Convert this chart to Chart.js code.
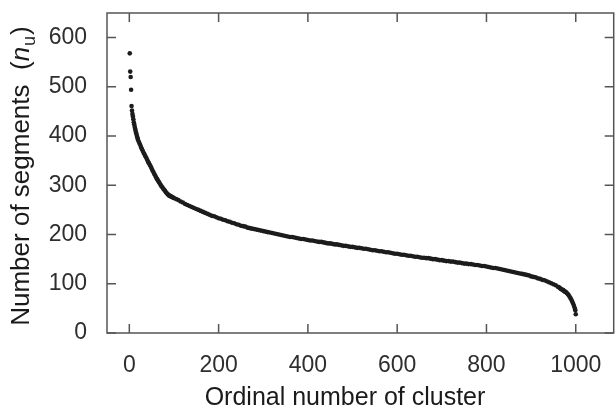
<!DOCTYPE html>
<html>
<head>
<meta charset="utf-8">
<script src="https://cdn.jsdelivr.net/npm/chart.js@4/dist/chart.umd.min.js"></script>
<style>
    html, body { margin: 0; padding: 0; background: #fff; }
    #wrap { width: 616px; height: 416px; }
</style>
</head>
<body>
<div id="wrap"><canvas id="myChart" width="616" height="416"></canvas></div>
<script>
// ordinal number of cluster (x) and number of segments n_u (y)
const clusterIndex = [
    1, 2, 3, 4, 5, 6, 7, 8, 9, 10, 11, 12, 13, 14, 15, 16, 17, 18, 19, 20,
    22, 24, 26, 28, 30, 32, 34, 36, 38, 40, 42, 44, 46, 48, 50, 52, 54, 56, 58, 60,
    62, 64, 66, 68, 70, 72, 74, 76, 78, 80, 82, 84, 86, 88, 90, 92, 94, 96, 98, 100,
    105, 110, 115, 120, 125, 130, 135, 140, 145, 150, 155, 160, 165, 170, 175, 180, 185, 190, 195, 200,
    205, 210, 215, 220, 225, 230, 235, 240, 245, 250, 255, 260, 265, 270, 275, 280, 285, 290, 295, 300,
    305, 310, 315, 320, 325, 330, 335, 340, 345, 350, 355, 360, 365, 370, 375, 380, 385, 390, 395, 400,
    405, 410, 415, 420, 425, 430, 435, 440, 445, 450, 455, 460, 465, 470, 475, 480, 485, 490, 495, 500,
    505, 510, 515, 520, 525, 530, 535, 540, 545, 550, 555, 560, 565, 570, 575, 580, 585, 590, 595, 600,
    605, 610, 615, 620, 625, 630, 635, 640, 645, 650, 655, 660, 665, 670, 675, 680, 685, 690, 695, 700,
    705, 710, 715, 720, 725, 730, 735, 740, 745, 750, 755, 760, 765, 770, 775, 780, 785, 790, 795, 800,
    805, 810, 815, 820, 825, 830, 835, 840, 845, 850, 855, 860, 865, 870, 875, 880, 885, 890, 895, 900,
    905, 910, 915, 920, 925, 930, 935, 940, 945, 950, 955, 960,
    962, 964, 966, 968, 970, 972, 974, 976, 978, 980, 982, 984, 986, 988, 990, 992, 994, 996, 998, 999, 1000
];
const segmentCount = [
    568, 531, 520, 494, 461, 452, 445, 440, 434, 428, 424, 419, 415, 411, 407, 404, 400, 397, 394, 391,
    387, 383, 378, 374, 370, 366, 363, 359, 356, 352, 348, 345, 341, 338, 334, 330, 327, 323, 320, 316,
    313, 310, 307, 304, 301, 298, 296, 293, 291, 289, 286, 284, 282, 280, 279, 278, 277, 276, 275, 274,
    272, 270, 267, 265, 262, 260, 258, 256, 254, 252, 250, 248, 246, 244, 242, 240, 238, 237, 235, 233,
    232, 230, 229, 227, 226, 224, 223, 221, 220, 218, 217, 216, 214, 213, 212, 211, 210, 209, 208, 207,
    206, 205, 204, 203, 202, 201, 200, 199, 198, 197, 196, 195, 195, 194, 193, 192, 191, 191, 190, 189,
    188, 188, 187, 186, 185, 185, 184, 183, 182, 182, 181, 180, 180, 179, 178, 177, 177, 176, 175, 175,
    174, 173, 173, 172, 171, 171, 170, 169, 168, 168, 167, 166, 166, 165, 164, 164, 163, 162, 161, 161,
    160, 159, 159, 158, 157, 157, 156, 155, 155, 154, 153, 153, 152, 152, 151, 150, 150, 149, 148, 148,
    147, 146, 146, 145, 145, 144, 143, 143, 142, 141, 141, 140, 140, 139, 138, 138, 137, 136, 136, 135,
    134, 133, 132, 132, 131, 130, 129, 128, 127, 126, 125, 124, 123, 122, 121, 120, 119, 118, 117, 115,
    114, 113, 111, 110, 108, 107, 105, 103, 101, 99, 97, 94,
    93, 92, 90, 89, 88, 87, 85, 84, 83, 81, 79, 77, 74, 71, 68, 64, 60, 55, 50, 46, 38
];
const xTicks = [0, 200, 400, 600, 800, 1000];
const yTicks = [0, 100, 200, 300, 400, 500, 600];
const xTitle = 'Ordinal number of cluster';
const yTitleMain = 'Number of segments  (';
const yTitleVar = 'n';
const yTitleSub = 'u';
const yTitleEnd = ')';

const points = clusterIndex.map((x, i) => ({x: x, y: segmentCount[i]}));

const frameColor = '#555555';
const tickLen = 9;

const framePlugin = {
    id: 'frame',
    afterDraw(chart) {
        const ctx = chart.ctx;
        const area = chart.chartArea;
        const xs = chart.scales.x;
        const ys = chart.scales.y;
        ctx.save();
        ctx.strokeStyle = frameColor;
        ctx.lineWidth = 1.5;
        ctx.strokeRect(area.left, area.top, area.right - area.left, area.bottom - area.top);
        ctx.beginPath();
        for (const v of xTicks) {
            const px = xs.getPixelForValue(v);
            ctx.moveTo(px, area.bottom);
            ctx.lineTo(px, area.bottom - tickLen);
            ctx.moveTo(px, area.top);
            ctx.lineTo(px, area.top + tickLen);
        }
        for (const v of yTicks) {
            const py = ys.getPixelForValue(v);
            ctx.moveTo(area.left, py);
            ctx.lineTo(area.left + tickLen, py);
            ctx.moveTo(area.right, py);
            ctx.lineTo(area.right - tickLen, py);
        }
        ctx.stroke();

        // axis titles
        ctx.fillStyle = '#1a1a1a';
        ctx.textBaseline = 'middle';
        ctx.font = '25px "Liberation Sans", Arial, sans-serif';
        ctx.textAlign = 'center';
        ctx.fillText(xTitle, 345, 398);

        ctx.translate(22, 176);
        ctx.rotate(-Math.PI / 2);
        ctx.textAlign = 'left';
        const regular = '26px "Liberation Sans", Arial, sans-serif';
        const italic = 'italic 26px "Liberation Sans", Arial, sans-serif';
        const small = '18px "Liberation Sans", Arial, sans-serif';
        ctx.font = regular;
        const w1 = ctx.measureText(yTitleMain).width;
        ctx.font = italic;
        const w2 = ctx.measureText(yTitleVar).width;
        ctx.font = small;
        const w3 = ctx.measureText(yTitleSub).width;
        ctx.font = regular;
        const w4 = ctx.measureText(yTitleEnd).width;
        let x = -(w1 + w2 + w3 + w4 + 2) / 2;
        ctx.font = regular;
        ctx.fillText(yTitleMain, x, 0);
        x += w1;
        ctx.font = italic;
        ctx.fillText(yTitleVar, x, 0);
        x += w2 + 1;
        ctx.font = small;
        ctx.fillText(yTitleSub, x, 8);
        x += w3 + 1;
        ctx.font = regular;
        ctx.fillText(yTitleEnd, x, 0);
        ctx.restore();
    }
};

const tickFont = {family: '"Liberation Sans", Arial, sans-serif', size: 23};

new Chart(document.getElementById('myChart'), {
    type: 'scatter',
    data: {
        datasets: [{
            data: points,
            backgroundColor: '#1c1c1c',
            borderWidth: 0,
            pointRadius: 2.3,
            pointHoverRadius: 2.3
        }]
    },
    options: {
        responsive: false,
        animation: false,
        devicePixelRatio: 1,
        layout: {padding: {left: 0, right: 1.5, top: 13, bottom: 0}},
        plugins: {legend: {display: false}, tooltip: {enabled: false}},
        scales: {
            x: {
                type: 'linear',
                min: -50,
                max: 1085,
                grid: {display: false},
                border: {display: false},
                afterBuildTicks: (scale) => { scale.ticks = xTicks.map(v => ({value: v})); },
                afterFit: (scale) => {
                    scale.height = 83;
                    scale.paddingLeft = 0;
                    scale.paddingRight = 0;
                },
                ticks: {
                    font: tickFont, color: '#2e2e2e', padding: 11, maxRotation: 0,
                    callback: (v) => String(v)
                }
            },
            y: {
                type: 'linear',
                min: 0,
                max: 650,
                grid: {display: false},
                border: {display: false},
                afterBuildTicks: (scale) => { scale.ticks = yTicks.map(v => ({value: v})); },
                afterFit: (scale) => {
                    scale.width = 107;
                    scale.paddingTop = 0;
                    scale.paddingBottom = 0;
                },
                ticks: {font: tickFont, color: '#2e2e2e', padding: 12, callback: (v) => String(v)}
            }
        }
    },
    plugins: [framePlugin]
});
</script>
</body>
</html>
